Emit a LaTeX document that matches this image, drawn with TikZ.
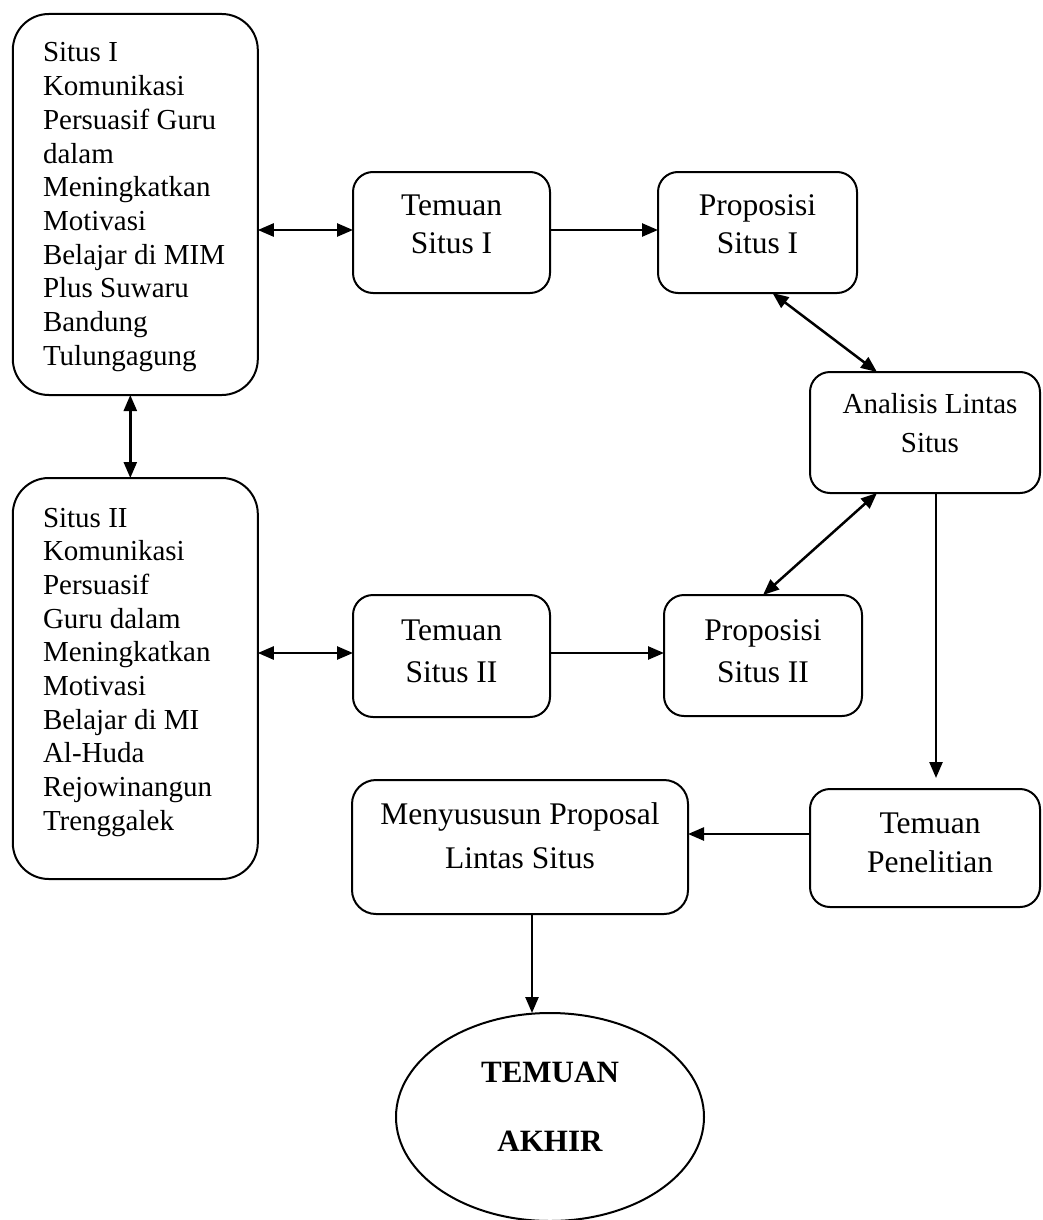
\documentclass[tikz,border=0pt]{standalone}
\usepackage{fontspec}
\setmainfont{Liberation Serif}
\usetikzlibrary{arrows.meta,calc,shapes.geometric}
\begin{document}
\begin{tikzpicture}[x=1pt,y=-1pt,
  box/.style={draw, line width=2pt, inner sep=0pt, outer sep=0pt},
  bigbox/.style={box, rounded corners=36pt},
  smallbox/.style={box, rounded corners=20pt},
  txt/.style={inner sep=0pt, outer sep=0pt},
  conn/.style={line width=2.5pt, -{Triangle[length=16pt,width=13pt]}},
  dconn/.style={line width=2.5pt, {Triangle[length=16pt,width=13pt]}-{Triangle[length=16pt,width=13pt]}}]
\useasboundingbox (0,0) rectangle (1042,1220);

% boxes
\node[bigbox, minimum width=245pt, minimum height=381pt] (A) at (135.3,204.5) {};
\node[bigbox, minimum width=245pt, minimum height=401pt] (B) at (135.3,678.5) {};
\node[smallbox, minimum width=197pt, minimum height=121pt] (T1) at (451.5,232.5) {};
\node[smallbox, minimum width=199pt, minimum height=121pt] (P1) at (757.5,232.5) {};
\node[smallbox, minimum width=230pt, minimum height=121pt] (AL) at (925,432.5) {};
\node[smallbox, minimum width=197pt, minimum height=122pt] (T2) at (451.5,656) {};
\node[smallbox, minimum width=198pt, minimum height=121pt] (P2) at (763,655.5) {};
\node[smallbox, minimum width=230pt, minimum height=118pt] (TP) at (925,848) {};
\node[smallbox, rounded corners=24pt, minimum width=336pt, minimum height=134pt] (MP) at (520,847) {};
\node[box, ellipse, minimum width=308pt, minimum height=208pt] (EL) at (550,1117) {};

% texts
\node[txt, anchor=base west, font=\fontsize{29}{33.7}\selectfont] (tA) at (43,62)
  {\begin{tabular}[t]{@{}l@{}}Situs I\\Komunikasi\\Persuasif Guru\\dalam\\Meningkatkan\\Motivasi\\Belajar di MIM\\Plus Suwaru\\Bandung\\Tulungagung\end{tabular}};
\node[txt, anchor=base west, font=\fontsize{29}{33.7}\selectfont] (tB) at (43,527)
  {\begin{tabular}[t]{@{}l@{}}Situs II\\Komunikasi\\Persuasif\\Guru dalam\\Meningkatkan\\Motivasi\\Belajar di MI\\Al-Huda\\Rejowinangun\\Trenggalek\end{tabular}};
\node[txt, anchor=base, font=\fontsize{31.5}{38}\selectfont] (tT1) at (451.5,215)
  {\begin{tabular}[t]{@{}c@{}}Temuan\\Situs I\end{tabular}};
\node[txt, anchor=base, font=\fontsize{31.5}{38}\selectfont] (tP1) at (757.5,215)
  {\begin{tabular}[t]{@{}c@{}}Proposisi\\Situs I\end{tabular}};
\node[txt, anchor=base, font=\fontsize{29}{39}\selectfont] (tAL) at (930,413)
  {\begin{tabular}[t]{@{}c@{}}Analisis Lintas\\Situs\end{tabular}};
\node[txt, anchor=base, font=\fontsize{31.5}{42}\selectfont] (tT2) at (451.5,640)
  {\begin{tabular}[t]{@{}c@{}}Temuan\\Situs II\end{tabular}};
\node[txt, anchor=base, font=\fontsize{31.5}{42}\selectfont] (tP2) at (763,640)
  {\begin{tabular}[t]{@{}c@{}}Proposisi\\Situs II\end{tabular}};
\node[txt, anchor=base, font=\fontsize{31.5}{39}\selectfont] (tTP) at (930,833)
  {\begin{tabular}[t]{@{}c@{}}Temuan\\Penelitian\end{tabular}};
\node[txt, anchor=base, font=\fontsize{31.5}{44}\selectfont] (tMP) at (520,824)
  {\begin{tabular}[t]{@{}c@{}}Menyususun Proposal\\Lintas Situs\end{tabular}};
\node[txt, anchor=base, font=\fontsize{31}{69}\selectfont\bfseries] (tEL) at (550,1082)
  {\begin{tabular}[t]{@{}c@{}}TEMUAN\\AKHIR\end{tabular}};

% connectors
\coordinate (a1) at ($(A.east)+(0,25.5)$);
\draw[dconn] (a1) -- (T1.west |- a1);
\draw[conn] (T1.east |- a1) -- (P1.west |- a1);
\draw[dconn] ($(P1.south)+(15,0)$) -- ($(AL.north)+(-48,0)$);
\draw[dconn] ($(A.south)+(-5,0)$) -- ($(B.north)+(-5,0)$);
\coordinate (b1) at ($(B.east)+(0,-25.5)$);
\draw[dconn] (b1) -- (T2.west |- b1);
\draw[conn] (T2.east |- b1) -- (P2.west |- b1);
\draw[dconn] ($(AL.south)+(-48,0)$) -- (P2.north);
\draw[conn, shorten >=11pt] ($(AL.south)+(11,0)$) -- ($(TP.north)+(11,0)$);
\coordinate (c1) at ($(TP.west)+(0,-14)$);
\draw[conn] (c1) -- (MP.east |- c1);
\coordinate (d1) at ($(MP.south)+(12,0)$);
\draw[conn] (d1) -- (d1 |- EL.north);
\end{tikzpicture}
\end{document}
